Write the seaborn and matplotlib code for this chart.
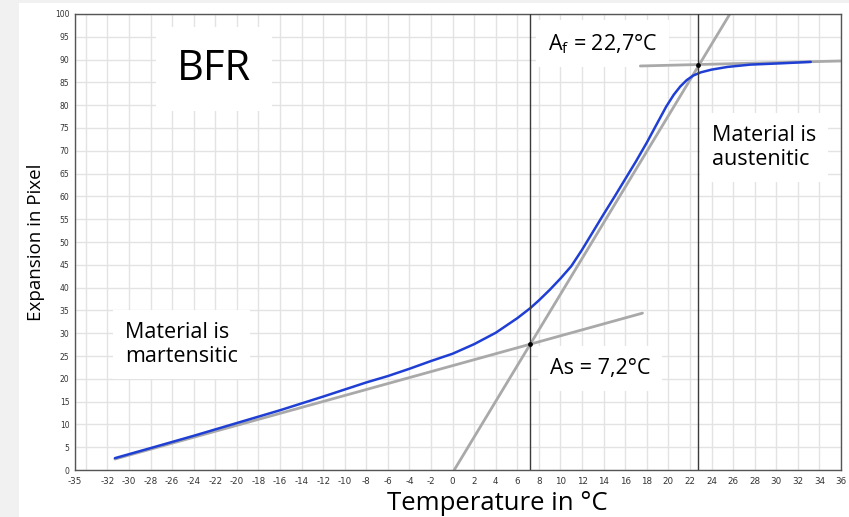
import numpy as np
import pandas as pd
import matplotlib.pyplot as plt
import seaborn as sns
from matplotlib.patches import Rectangle
from matplotlib.ticker import MultipleLocator

temp = [-31.3, -28, -24, -20, -16, -12, -8, -6, -4, -2, 0, 2, 4, 6, 7.2, 8,
        9, 10, 11, 12, 13, 14, 15, 16, 17, 18, 19, 19.8, 20.5, 21.1, 21.7,
        22.3, 23.0, 24.0, 25.5, 27.6, 30.6, 33.2]
expansion = [2.6, 4.8, 7.5, 10.3, 13.1, 16.1, 19.2, 20.6, 22.2, 23.9, 25.5,
             27.6, 30.1, 33.3, 35.5, 37.2, 39.5, 42.0, 44.7, 48.3, 52.2, 56.1,
             59.9, 63.8, 67.7, 71.8, 76.2, 79.7, 82.3, 84.1, 85.5, 86.5, 87.2,
             87.8, 88.4, 88.9, 89.2, 89.5]

# tangent lines
lower_x = [-31.3, 17.6]
lower_y = [2.4, 34.4]
steep_x = [0.15, 25.7]
steep_y = [0, 100]
upper_x = [17.4, 36]
upper_y = [88.6, 89.7]

as_temp, as_val = 7.2, 27.6
af_temp, af_val = 22.7, 88.8

xtick_vals = [-35, -34] + list(range(-32, 37, 2))
xtick_labels = ['' if v == -34 else str(v) for v in xtick_vals]

sns.set_style("white")
plt.rcParams['font.family'] = ['Open Sans', 'DejaVu Sans']
plt.rcParams['axes.unicode_minus'] = False
plt.rcParams['text.color'] = 'black'

fig = plt.figure(figsize=(8.49, 5.17), dpi=100)
fig.patch.set_facecolor('#f1f1f1')
fig.add_artist(Rectangle((19 / 849, 0), 1, 1 - 3 / 517, transform=fig.transFigure,
                         facecolor='white', edgecolor='none', zorder=-10))
ax = fig.add_axes([75 / 849, 47 / 517, 766 / 849, 456 / 517])

sns.lineplot(x=lower_x, y=lower_y, color='#a9a9a9', lw=2, ax=ax, zorder=2)
sns.lineplot(x=steep_x, y=steep_y, color='#a9a9a9', lw=2, ax=ax, zorder=2)
sns.lineplot(x=upper_x, y=upper_y, color='#a9a9a9', lw=2, ax=ax, zorder=2)
sns.lineplot(x=temp, y=expansion, color='#1f3fd4', lw=1.8, ax=ax, zorder=3)
ax.axvline(as_temp, color='#3a3a3a', lw=1, zorder=4)
ax.axvline(af_temp, color='#3a3a3a', lw=1, zorder=4)
sns.scatterplot(x=[as_temp, af_temp], y=[as_val, af_val], color='black',
                marker='o', s=12, linewidth=0, ax=ax, zorder=5)

ax.set_xlim(-35, 36)
ax.set_ylim(0, 100)
ax.set_xticks(xtick_vals)
ax.set_xticklabels(xtick_labels)
ax.xaxis.set_minor_locator(MultipleLocator(0.5))
ax.set_yticks(range(0, 101, 5))
ax.grid(True, which='major', color='#e3e3e3', lw=1)
ax.set_axisbelow(True)
for s in ax.spines.values():
    s.set_color('#555555')
    s.set_linewidth(1)
ax.tick_params(axis='x', which='major', direction='out', length=4, width=0.8,
               color='#555555', labelsize=6.3, labelcolor='#333333', pad=1)
ax.tick_params(axis='x', which='minor', direction='out', length=2, width=0.6,
               color='#777777')
ax.tick_params(axis='y', direction='out', length=3, width=0.8, color='#555555',
               labelsize=5.5, labelcolor='#333333', pad=1)
plt.setp(ax.get_xticklabels() + ax.get_yticklabels(), fontfamily='DejaVu Sans')

ax.set_xlabel("Temperature in °C", fontsize=18.5, color='black')
ax.xaxis.set_label_coords(0.551, -0.047)
ax.set_ylabel("Expansion in Pixel", fontsize=13.5, color='black', labelpad=7)

# text boxes sit below the lines but above the grid
box = dict(facecolor='white', edgecolor='none', boxstyle='square,pad=0.55')
ax.text(-25.55, 85.5, "BFR", fontsize=30, va='baseline', ha='left', zorder=1.5,
        color='black',
        bbox=dict(facecolor='white', edgecolor='none', boxstyle='square,pad=0.5'))
ax.text(-30.37, 23.7, "Material is\nmartensitic", fontsize=15.5, va='baseline',
        ha='left', zorder=1.5, linespacing=1.2, color='black', bbox=box)
ax.text(24.04, 66.9, "Material is\naustenitic", fontsize=15.5, va='baseline',
        ha='left', zorder=1.5, linespacing=1.2, color='black', bbox=box)
ax.text(8.84, 92.1, r"A$_\mathregular{f}$ = 22,7°C", fontsize=15.5, va='baseline',
        ha='left', zorder=1.5, color='black', bbox=box)
ax.text(9.02, 21.05, "As = 7,2°C", fontsize=15.5, va='baseline', ha='left',
        zorder=1.5, color='black', bbox=box)

fig.savefig("out.png", dpi=100)
